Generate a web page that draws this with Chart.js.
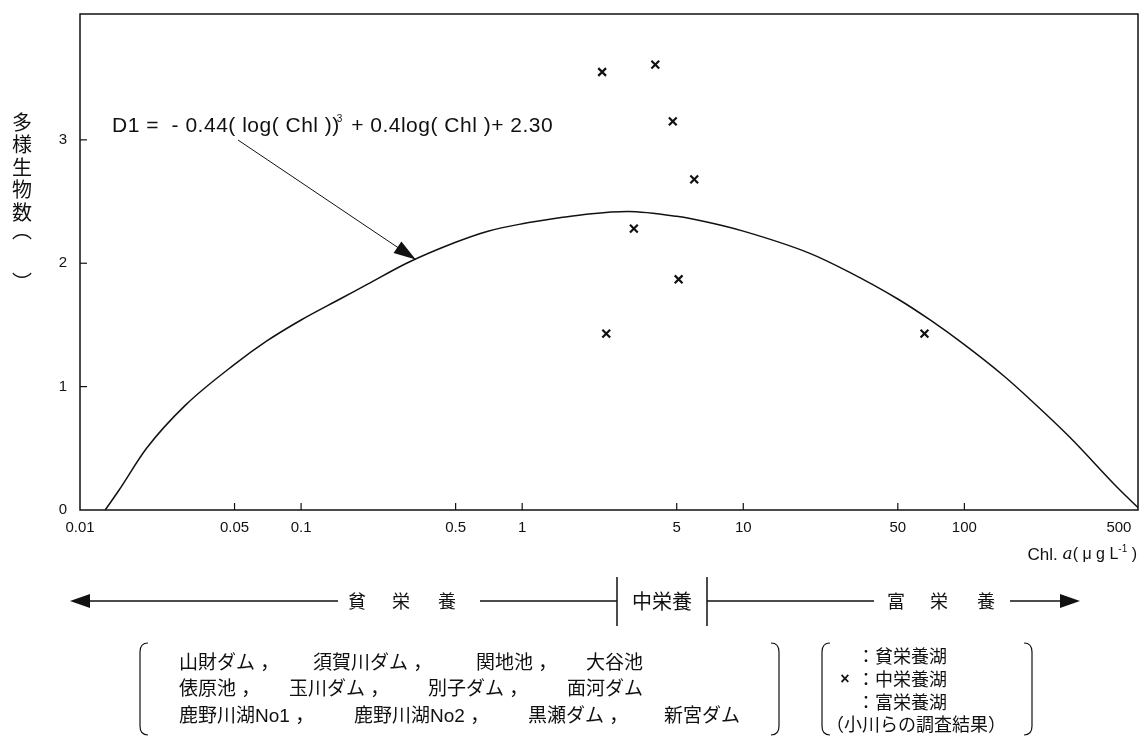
<!DOCTYPE html>
<html>
<head>
<meta charset="utf-8">
<script src="https://cdn.jsdelivr.net/npm/chart.js@4.4.1/dist/chart.umd.min.js"></script>
<style>
  html, body { margin: 0; padding: 0; background: #fff; }
</style>
</head>
<body>
<canvas id="chart" width="1146" height="738"></canvas>
<script>
// tick labels
const xTicks = [0.01, 0.05, 0.1, 0.5, 1, 5, 10, 50, 100, 500];
const yTicks = [0, 1, 2, 3];

// fitted curve D1
const curveChl = [0.013, 0.015, 0.02, 0.03, 0.05, 0.07, 0.1, 0.15, 0.2, 0.3, 0.5, 0.7, 1, 1.5, 2, 3, 5, 7, 10, 20, 30, 50, 70, 100, 150, 200, 300, 500, 610];
const curveD1 = [0, 0.16, 0.5, 0.85, 1.18, 1.37, 1.54, 1.71, 1.83, 2.0, 2.17, 2.26, 2.32, 2.37, 2.4, 2.42, 2.38, 2.33, 2.26, 2.08, 1.93, 1.71, 1.54, 1.34, 1.09, 0.89, 0.59, 0.17, 0.02];

// lakes (x marks)
const lakeChl = [2.3, 4.0, 4.8, 6.0, 3.2, 5.1, 2.4, 66];
const lakeD1 = [3.55, 3.61, 3.15, 2.68, 2.28, 1.87, 1.43, 1.43];

// lake names in the left bracket box
const lakeRows = [
    ['山財ダム ，', '須賀川ダム ，', '関地池 ，', '大谷池'],
    ['俵原池 ，', '玉川ダム ，', '別子ダム ，', '面河ダム'],
    ['鹿野川湖No1 ，', '鹿野川湖No2 ，', '黒瀬ダム ，', '新宮ダム']
];
const legendRows = ['：貧栄養湖', '：中栄養湖', '：富栄養湖', '（小川らの調査結果）'];

const arrowTip = [0.33, 2.03]; // where the formula arrow points on the curve

const latin = "'Liberation Sans', Arial, sans-serif";
const mixed = "'Liberation Sans', 'Noto Sans CJK JP', sans-serif";
const cjk = "'Noto Sans CJK JP', sans-serif";
const ink = '#111';

function arrowHead(ctx, tx, ty, dx, dy, len, half) {
    const l = Math.hypot(dx, dy);
    const ux = dx / l, uy = dy / l;
    const bx = tx - ux * len, by = ty - uy * len;
    ctx.beginPath();
    ctx.moveTo(tx, ty);
    ctx.lineTo(bx - uy * half, by + ux * half);
    ctx.lineTo(bx + uy * half, by - ux * half);
    ctx.closePath();
    ctx.fill();
}

function bracket(ctx, x, top, bottom, dir) {
    ctx.beginPath();
    ctx.moveTo(x + dir * 8, top);
    ctx.quadraticCurveTo(x, top, x, top + 9);
    ctx.lineTo(x, bottom - 9);
    ctx.quadraticCurveTo(x, bottom, x + dir * 8, bottom);
    ctx.stroke();
}

function hline(ctx, x1, x2, y) {
    ctx.beginPath();
    ctx.moveTo(x1, y);
    ctx.lineTo(x2, y);
    ctx.stroke();
}

const extras = {
    id: 'extras',
    afterDraw(chart) {
        const ctx = chart.ctx;
        const a = chart.chartArea;
        const xs = chart.scales.x, ys = chart.scales.y;
        ctx.save();
        ctx.strokeStyle = ink;
        ctx.fillStyle = ink;

        // frame
        ctx.lineWidth = 1.5;
        ctx.strokeRect(a.left, a.top, a.right - a.left, a.bottom - a.top);

        // inward tick marks
        ctx.lineWidth = 1.2;
        xTicks.slice(1, -1).forEach(v => {
            const px = xs.getPixelForValue(v);
            ctx.beginPath(); ctx.moveTo(px, a.bottom); ctx.lineTo(px, a.bottom - 7); ctx.stroke();
        });
        yTicks.slice(1).forEach(v => {
            const py = ys.getPixelForValue(v);
            ctx.beginPath(); ctx.moveTo(a.left, py); ctx.lineTo(a.left + 7, py); ctx.stroke();
        });

        // y title, vertical
        ctx.font = '20px ' + cjk;
        ctx.textAlign = 'center';
        ctx.textBaseline = 'middle';
        const yChars = ['多', '様', '生', '物', '数', '︵', '︶'];
        const yPos = [122, 144.5, 167, 189.5, 212, 230, 282];
        yChars.forEach((c, i) => ctx.fillText(c, 22, yPos[i]));

        // formula
        ctx.textAlign = 'left';
        ctx.letterSpacing = '0.5px';
        ctx.font = '21px ' + latin;
        let fx = 112;
        const fy = 126;
        const f1 = 'D1 =  - 0.44( log( Chl ))';
        ctx.fillText(f1, fx, fy);
        fx += ctx.measureText(f1).width;
        ctx.font = '10px ' + latin;
        ctx.fillText('3', fx - 3, fy - 7);
        fx += 5;
        ctx.font = '21px ' + latin;
        ctx.fillText(' + 0.4log( Chl )+ 2.30', fx, fy);
        ctx.letterSpacing = '0px';

        // arrow to the curve
        const tx = xs.getPixelForValue(arrowTip[0]);
        const ty = ys.getPixelForValue(arrowTip[1]);
        ctx.lineWidth = 1;
        ctx.beginPath(); ctx.moveTo(238, 140); ctx.lineTo(tx, ty); ctx.stroke();
        arrowHead(ctx, tx, ty, tx - 238, ty - 140, 22, 7);

        // x axis title, right aligned at the frame
        const ty2 = 555;
        const parts = [
            ['Chl. ', '17px ' + latin, 0],
            ['a', 'italic 17px ' + "'DejaVu Serif', serif", 0],
            ['( μ g L', '16px ' + latin, 0],
            ['-1', '10px ' + latin, -6],
            [' )', '16px ' + latin, 0]
        ];
        let total = 0;
        parts.forEach(p => { ctx.font = p[1]; total += ctx.measureText(p[0]).width; });
        let px = a.right - total - 1;
        parts.forEach(p => {
            ctx.font = p[1];
            ctx.fillText(p[0], px, ty2 + p[2]);
            px += ctx.measureText(p[0]).width;
        });

        // trophic range bar
        const ry = 601;
        ctx.lineWidth = 1.5;
        hline(ctx, 88, 338, ry);
        arrowHead(ctx, 70, ry, -1, 0, 20, 7);
        hline(ctx, 480, 617, ry);
        hline(ctx, 707, 874, ry);
        hline(ctx, 1010, 1062, ry);
        arrowHead(ctx, 1080, ry, 1, 0, 20, 7);
        ctx.beginPath(); ctx.moveTo(617, 577); ctx.lineTo(617, 626); ctx.stroke();
        ctx.beginPath(); ctx.moveTo(707, 577); ctx.lineTo(707, 626); ctx.stroke();
        ctx.font = '18px ' + cjk;
        ctx.textAlign = 'center';
        [['貧', 357], ['栄', 401], ['養', 447], ['富', 896], ['栄', 939], ['養', 986]]
            .forEach(t => ctx.fillText(t[0], t[1], ry));
        ctx.font = '20px ' + cjk;
        ctx.fillText('中栄養', 662, ry);

        // lake list box
        ctx.lineWidth = 1.2;
        bracket(ctx, 140, 643, 735, 1);
        bracket(ctx, 779, 643, 735, -1);
        ctx.textAlign = 'left';
        ctx.font = '19px ' + mixed;
        const colX = [[179, 313, 476, 586], [179, 289, 428, 567], [179, 354, 528, 664]];
        const rowY = [664, 690, 717];
        lakeRows.forEach((row, r) => row.forEach((s, c) => ctx.fillText(s, colX[r][c], rowY[r])));

        // legend box
        bracket(ctx, 822, 643, 735, 1);
        bracket(ctx, 1032, 643, 735, -1);
        ctx.font = '18px ' + cjk;
        const legY = [656, 679, 702, 724];
        legendRows.forEach((s, i) => ctx.fillText(s, i === 3 ? 826 : 857, legY[i]));
        ctx.font = 'bold 16px ' + latin;
        ctx.textAlign = 'center';
        ctx.fillText('×', 845, legY[1] + 1);

        ctx.restore();
    }
};

new Chart(document.getElementById('chart'), {
    type: 'scatter',
    data: {
        datasets: [
            {
                data: curveChl.map((x, i) => ({ x: x, y: curveD1[i] })),
                showLine: true,
                borderColor: ink,
                borderWidth: 1.5,
                pointRadius: 0,
                cubicInterpolationMode: 'monotone'
            },
            {
                data: lakeChl.map((x, i) => ({ x: x, y: lakeD1[i] })),
                pointStyle: 'crossRot',
                pointRadius: 5.5,
                borderColor: ink,
                borderWidth: 2.2
            }
        ]
    },
    options: {
        responsive: false,
        animation: false,
        layout: { padding: { top: 14, right: 8, left: 0, bottom: 0 } },
        plugins: { legend: { display: false }, tooltip: { enabled: false } },
        scales: {
            x: {
                type: 'logarithmic',
                min: 0.01,
                max: 610,
                afterBuildTicks: s => { s.ticks = xTicks.map(v => ({ value: v })); },
                afterFit: s => { s.height = 228; s.paddingLeft = 0; s.paddingRight = 0; },
                grid: { display: false, drawTicks: false },
                border: { display: false },
                ticks: {
                    autoSkip: false,
                    maxRotation: 0,
                    padding: 9,
                    color: ink,
                    font: { family: latin, size: 15 },
                    callback: v => String(v)
                }
            },
            y: {
                min: 0,
                max: 4.02,
                afterBuildTicks: s => { s.ticks = yTicks.map(v => ({ value: v })); },
                afterFit: s => { s.width = 80; s.paddingTop = 0; s.paddingBottom = 0; },
                grid: { display: false, drawTicks: false },
                border: { display: false },
                ticks: {
                    padding: 13,
                    color: ink,
                    font: { family: latin, size: 15 },
                    callback: v => String(v)
                }
            }
        }
    },
    plugins: [extras]
});
</script>
</body>
</html>
